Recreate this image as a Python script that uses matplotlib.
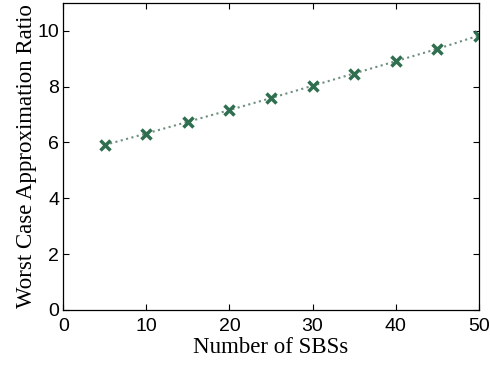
import numpy as np
import matplotlib.pyplot as plt

sbs = [5, 10, 15, 20, 25, 30, 35, 40, 45, 50]
ratio = [5.91, 6.32, 6.74, 7.16, 7.59, 8.03, 8.47, 8.91, 9.35, 9.83]

fig = plt.figure(figsize=(4.9, 3.65), dpi=100)
ax = fig.add_axes([0.129, 0.151, 0.848, 0.841])
ax.plot(sbs, ratio, linestyle=':', color='#6f8f7e', linewidth=1.5,
        marker='x', markersize=7, markeredgewidth=2.5, markeredgecolor='#2f6e4f')
ax.set_xlim(0, 50)
ax.set_ylim(0, 11)
ax.set_xticks(np.arange(0, 51, 10))
ax.set_yticks(np.arange(0, 11, 2))
ax.tick_params(direction='in', top=True, right=True, length=4, width=0.8,
               labelsize=14)
ax.tick_params(axis='x', pad=6)
ax.tick_params(axis='y', pad=3)
for lab in ax.get_xticklabels() + ax.get_yticklabels():
    lab.set_family('Liberation Sans')
for s in ax.spines.values():
    s.set_linewidth(0.9)
ax.set_xlabel('Number of SBSs', family='Liberation Serif', fontsize=16.5, labelpad=1)
ax.set_ylabel('Worst Case Approximation Ratio', family='Liberation Serif',
              fontsize=16.5, labelpad=0)
fig.savefig('out.png')
